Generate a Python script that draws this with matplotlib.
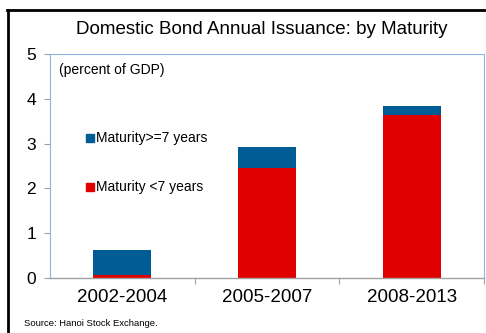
import matplotlib
matplotlib.use("Agg")
import matplotlib.pyplot as plt
from matplotlib.lines import Line2D

plt.rcParams["font.family"] = ["Liberation Sans", "DejaVu Sans"]

periods = ["2002-2004", "2005-2007", "2008-2013"]
short_mat = [0.06, 2.46, 3.63]      # Maturity <7 years
long_mat = [0.57, 0.46, 0.22]       # Maturity>=7 years
yticks = [0, 1, 2, 3, 4, 5]

RED = "#E00000"
BLUE = "#005C94"
W, H = 486, 333

fig = plt.figure(figsize=(W / 100, H / 100), dpi=100)
ax = fig.add_axes([50 / W, 1 - 278 / H, 434 / W, 224 / H])

x = range(len(periods))
ax.bar(x, short_mat, width=0.4, color=RED, zorder=2)
ax.bar(x, long_mat, width=0.4, bottom=short_mat, color=BLUE, zorder=2)

ax.set_xlim(-0.5, 2.5)
ax.set_ylim(0, 5)
ax.set_yticks(yticks)
ax.set_yticklabels([str(v) for v in yticks], fontsize=12.5)
ax.set_xticks([0.5, 1.5, 2.5])
ax.set_xticklabels([])
ax.set_xticks(list(x), minor=True)
ax.set_xticklabels(periods, minor=True, fontsize=13.5)
ax.tick_params(axis="x", which="minor", length=0, pad=8)
ax.tick_params(axis="x", which="major", length=4, color="#a0a0a0")
ax.tick_params(axis="y", length=4, color="#a0a0a0", pad=6)

for s in ["left", "top", "right"]:
    ax.spines[s].set_color("#8DB4E2")
    ax.spines[s].set_linewidth(0.8)
ax.spines["bottom"].set_color("#a0a0a0")
ax.spines["bottom"].set_linewidth(1.0)

ax.text(0.02, 0.96, "(percent of GDP)", transform=ax.transAxes,
        fontsize=10, va="top", ha="left")

# legend drawn as text + square markers, as in the original
fig.add_artist(Line2D([90 / W], [1 - 138 / H], marker="s", color=BLUE,
                      markersize=6, transform=fig.transFigure))
fig.text(96 / W, 1 - 138 / H, "Maturity>=7 years", fontsize=10, va="center")
fig.add_artist(Line2D([90 / W], [1 - 187 / H], marker="s", color=RED,
                      markersize=6, transform=fig.transFigure))
fig.text(96 / W, 1 - 187 / H, "Maturity <7 years", fontsize=10, va="center")

fig.text(262 / W, 1 - 30 / H, "Domestic Bond Annual Issuance: by Maturity",
         fontsize=13.5, ha="center", va="center")
fig.text(24 / W, 1 - 324 / H, "Source: Hanoi Stock Exchange.", fontsize=6.8,
         ha="left", va="center")

# black frame (left and top edges visible)
fig.add_artist(Line2D([8 / W, 8 / W], [0, 1 - 10 / H], color="black", lw=2,
                      transform=fig.transFigure))
fig.add_artist(Line2D([7 / W, 1], [1 - 10 / H, 1 - 10 / H], color="black", lw=2,
                      transform=fig.transFigure))

fig.savefig("out.png", dpi=100)
